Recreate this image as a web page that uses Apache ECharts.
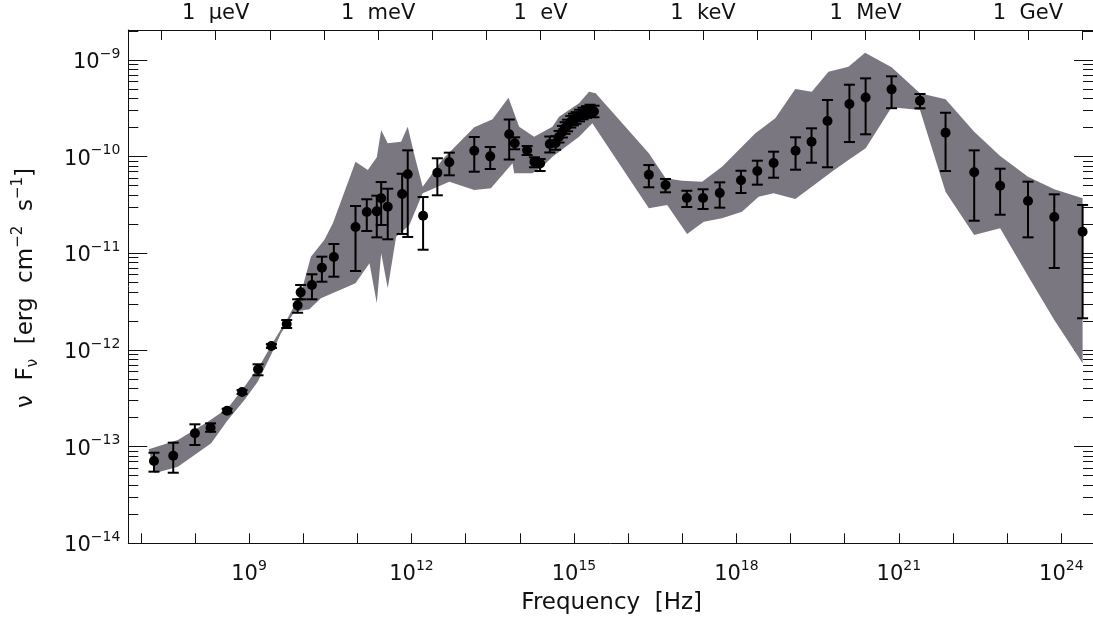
<!DOCTYPE html>
<html>
<head>
<meta charset="utf-8">
<script src="https://cdn.jsdelivr.net/npm/echarts@6/dist/echarts.min.js"></script>
<style>
  html, body { margin: 0; padding: 0; background: #fff; }
  #chart { width: 1093px; height: 626px; }
</style>
</head>
<body>
<div id="chart"></div>
<script>
// Broadband spectral energy distribution, all quantities in log10.
// Frequency in Hz, flux νFν in erg cm^-2 s^-1.

// Measured points
const logNu = [
  7.244, 7.600, 8.000, 8.289, 8.595, 8.871, 9.166, 9.413, 9.695, 9.897,
  9.953, 10.161, 10.345, 10.566, 10.966, 11.174, 11.359, 11.440, 11.561, 11.827,
  11.930, 12.214, 12.477, 12.698, 13.159, 13.454, 13.804, 13.905, 14.135, 14.270,
  14.375, 14.554, 14.661, 14.725, 14.786, 14.836, 14.882, 14.941, 14.992, 15.038,
  15.103, 15.167, 15.232, 15.296, 15.370,
  16.383, 16.691, 17.084, 17.384, 17.692, 18.084, 18.386, 18.687, 19.092, 19.387,
  19.682, 20.087, 20.386, 20.865, 21.390, 21.862, 22.391, 22.870, 23.385, 23.870,
  24.393
];
const logFlux = [
  -13.149, -13.094, -12.862, -12.804, -12.628, -12.435, -12.200, -11.959, -11.731, -11.538,
  -11.404, -11.328, -11.149, -11.038, -10.728, -10.573, -10.566, -10.431, -10.518, -10.387,
  -10.183, -10.611, -10.166, -10.059, -9.939, -9.997, -9.769, -9.862, -9.933, -10.052,
  -10.071, -9.869, -9.859, -9.794, -9.742, -9.704, -9.678, -9.639, -9.616, -9.600,
  -9.575, -9.554, -9.538, -9.523, -9.533,
  -10.187, -10.294, -10.428, -10.428, -10.376, -10.245, -10.149, -10.066, -9.939, -9.846,
  -9.631, -9.456, -9.388, -9.304, -9.421, -9.752, -10.162, -10.301, -10.459, -10.625,
  -10.777
];
const logFluxLow = [
  -13.259, -13.270, -12.983, -12.846, -12.648, -12.455, -12.262, -11.979, -11.773, -11.615,
  -11.476, -11.476, -11.294, -11.242, -11.183, -10.769, -10.835, -10.707, -10.855, -10.800,
  -10.831, -10.963, -10.400, -10.193, -10.156, -10.128, -10.030, -9.924, -9.983, -10.110,
  -10.149, -9.957, -9.929, -9.854, -9.802, -9.764, -9.738, -9.699, -9.676, -9.660,
  -9.635, -9.614, -9.598, -9.583, -9.593,
  -10.317, -10.369, -10.521, -10.542, -10.528, -10.376, -10.290, -10.218, -10.135, -10.063,
  -10.110, -9.849, -9.769, -9.499, -9.500, -10.149, -10.663, -10.601, -10.835, -11.152,
  -11.672
];
const logFluxHigh = [
  -13.063, -12.959, -12.769, -12.759, -12.608, -12.415, -12.148, -11.939, -11.690, -11.476,
  -11.328, -11.217, -11.035, -10.904, -10.511, -10.441, -10.404, -10.263, -10.332, -10.177,
  -9.935, -10.418, -10.017, -9.959, -9.797, -9.900, -9.616, -9.800, -9.890, -10.007,
  -10.025, -9.792, -9.789, -9.734, -9.682, -9.644, -9.618, -9.579, -9.556, -9.540,
  -9.515, -9.494, -9.478, -9.463, -9.473,
  -10.087, -10.231, -10.353, -10.338, -10.266, -10.146, -10.042, -9.949, -9.800, -9.707,
  -9.414, -9.256, -9.190, -9.169, -9.352, -9.546, -9.935, -10.125, -10.259, -10.390,
  -10.500
];

// Variability envelope: upper and lower edges
const bandUpperNu = [
  7.146, 7.686, 8.239, 8.608, 8.915, 9.221, 9.468, 9.713, 9.958, 10.142,
  10.389, 10.548, 10.966, 11.193, 11.359, 11.440, 11.561, 11.808, 11.930, 12.053,
  12.206, 12.575, 13.159, 13.496, 13.791, 13.988, 14.264, 14.602, 14.725, 15.094,
  15.278, 15.401, 16.383, 16.691, 16.997, 17.366, 17.734, 18.350, 18.718, 19.087,
  19.392, 19.700, 20.069, 20.376, 20.866, 21.390, 21.862, 22.391, 22.870, 23.385,
  23.870, 24.393
];
const bandUpperFlux = [
  -13.028, -12.931, -12.742, -12.600, -12.380, -12.138, -11.897, -11.672, -11.414, -11.035,
  -10.862, -10.690, -10.052, -10.138, -10.007, -9.725, -9.862, -9.846, -9.690, -9.983,
  -10.311, -10.028, -9.697, -9.614, -9.390, -9.690, -9.794, -9.690, -9.587, -9.448,
  -9.328, -9.345, -9.966, -10.224, -10.249, -10.259, -10.104, -9.759, -9.604, -9.300,
  -9.328, -9.121, -9.070, -8.925, -9.076, -9.345, -9.407, -9.742, -9.994, -10.208,
  -10.338, -10.431
];
const bandLowerNu = [
  7.257, 7.686, 8.300, 8.608, 8.915, 9.160, 9.405, 9.590, 9.837, 10.113,
  10.327, 10.966, 11.224, 11.359, 11.440, 11.561, 11.716, 11.961, 12.206, 12.698,
  13.159, 13.466, 13.865, 13.896, 14.233, 14.417, 14.602, 15.094, 15.339, 16.383,
  16.721, 17.089, 17.397, 17.734, 18.103, 18.410, 18.687, 19.087, 19.392, 19.761,
  20.069, 20.387, 20.866, 21.390, 21.862, 22.391, 22.870, 23.385, 23.870, 24.393
];
const bandLowerFlux = [
  -13.276, -13.208, -12.966, -12.724, -12.518, -12.328, -12.052, -11.828, -11.604, -11.579,
  -11.466, -11.310, -11.104, -11.517, -11.000, -11.362, -10.828, -10.707, -10.380, -10.259,
  -10.345, -10.328, -10.069, -10.172, -10.172, -10.104, -10.001, -9.794, -9.655, -10.535,
  -10.500, -10.800, -10.673, -10.638, -10.570, -10.415, -10.379, -10.438, -10.311, -10.156,
  -10.035, -9.914, -9.490, -9.518, -10.363, -10.811, -10.741, -11.235, -11.690, -12.138
];

// Axis ticks
const freqMajorTicks = [7, 8, 9, 10, 11, 12, 13, 14, 15, 16, 17, 18, 19, 20, 21, 22, 23, 24];
const freqLabelTicks = [9, 12, 15, 18, 21, 24];
const fluxMajorTicks = [-14, -13, -12, -11, -10, -9];
const energyUnits = { '-6': 'μeV', '-3': 'meV', '0': 'eV', '3': 'keV', '6': 'MeV', '9': 'GeV' };
const LOG_HZ_PER_EV = Math.log10(2.417989e14);

const X_MIN = 6.77, X_MAX = 24.585;
const Y_MIN = -14, Y_MAX = -8.69;

const fluxMinorTicks = [];
for (let d = -14; d < -8; d++) {
  for (let k = 2; k <= 9; k++) {
    const v = d + Math.log10(k);
    if (v < Y_MAX) fluxMinorTicks.push(v);
  }
}
const energyTicks = [];
for (let k = -8; k <= 11; k++) {
  const v = LOG_HZ_PER_EV + k;
  if (v > X_MIN && v < X_MAX) energyTicks.push(v);
}
const energyLabelTicks = Object.keys(energyUnits).map(k => LOG_HZ_PER_EV + Number(k));

const FONT = 'DejaVu Sans';
const INK = '#111';
const BAND = '#7a7780';

const powRich = {
  b: { fontFamily: FONT, fontSize: 21, lineHeight: 26, color: INK, verticalAlign: 'bottom' },
  s: { fontFamily: FONT, fontSize: 14, lineHeight: 16, color: INK, verticalAlign: 'top' }
};
const powLabel = v => '{b|10}{s|' + String(Math.round(v)).replace('-', '−') + '}';

const tickLine = { lineStyle: { color: INK, width: 1 } };

const chart = echarts.init(document.getElementById('chart'), null, { renderer: 'canvas' });

const grid = { left: 128.3, top: 30, width: 966.7, height: 513.3, containLabel: false };

chart.setOption({
  animation: false,
  backgroundColor: '#fff',
  grid: grid,
  xAxis: [
    {
      type: 'value', position: 'bottom', min: X_MIN, max: X_MAX,
      axisLine: { show: true, onZero: false, lineStyle: { color: INK, width: 1 } },
      axisTick: { show: true, inside: true, length: 10, customValues: freqMajorTicks, ...tickLine },
      axisLabel: { show: true, customValues: freqLabelTicks, margin: 16, formatter: powLabel, rich: powRich },
      splitLine: { show: false }
    },
    {
      type: 'value', position: 'top', min: X_MIN, max: X_MAX,
      axisLine: { show: true, onZero: false, lineStyle: { color: INK, width: 1 } },
      axisTick: { show: true, inside: true, length: 10, customValues: energyTicks, ...tickLine },
      axisLabel: {
        show: true, customValues: energyLabelTicks, margin: 6,
        fontFamily: FONT, fontSize: 21, color: INK,
        formatter: v => '1  ' + energyUnits[String(Math.round(v - LOG_HZ_PER_EV))]
      },
      splitLine: { show: false }
    }
  ],
  yAxis: [
    {
      type: 'value', position: 'left', min: Y_MIN, max: Y_MAX,
      axisLine: { show: true, onZero: false, lineStyle: { color: INK, width: 1 } },
      axisTick: { show: true, inside: true, length: 19, customValues: fluxMajorTicks, ...tickLine },
      axisLabel: { show: true, customValues: fluxMajorTicks, margin: 8, formatter: powLabel, rich: powRich },
      splitLine: { show: false }
    },
    {
      type: 'value', position: 'right', min: Y_MIN, max: Y_MAX,
      axisLine: { show: false },
      axisTick: { show: true, inside: true, length: 19, customValues: fluxMajorTicks, ...tickLine },
      axisLabel: { show: false },
      splitLine: { show: false }
    },
    {
      type: 'value', position: 'left', min: Y_MIN, max: Y_MAX,
      axisLine: { show: false },
      axisTick: { show: true, inside: true, length: 10, customValues: fluxMinorTicks, ...tickLine },
      axisLabel: { show: false },
      splitLine: { show: false }
    },
    {
      type: 'value', position: 'right', min: Y_MIN, max: Y_MAX,
      axisLine: { show: false },
      axisTick: { show: true, inside: true, length: 10, customValues: fluxMinorTicks, ...tickLine },
      axisLabel: { show: false },
      splitLine: { show: false }
    }
  ],
  graphic: [
    {
      type: 'text', x: 611.7, y: 603,
      style: {
        text: 'Frequency  [Hz]', fontFamily: FONT, fontSize: 23, fill: INK,
        align: 'center', verticalAlign: 'middle'
      }
    },
    {
      type: 'text', x: 26, y: 288, rotation: Math.PI / 2,
      style: {
        text: '{m|ν  F}{sub|ν}{m|  [erg  cm}{sup|−2}{m|  s}{sup|−1}{m|]}',
        align: 'center', verticalAlign: 'middle',
        rich: {
          m: { fontFamily: FONT, fontSize: 23, lineHeight: 30, fill: INK, verticalAlign: 'middle' },
          sub: { fontFamily: FONT, fontSize: 15, lineHeight: 18, fill: INK, verticalAlign: 'bottom' },
          sup: { fontFamily: FONT, fontSize: 15, lineHeight: 18, fill: INK, verticalAlign: 'top' }
        }
      }
    }
  ],
  series: [
    {
      name: 'envelope', type: 'custom', xAxisIndex: 0, yAxisIndex: 0, silent: true, z: 1,
      data: [[bandUpperNu[0], bandUpperFlux[0]]],
      renderItem: (params, api) => {
        const upper = bandUpperNu.map((x, i) => api.coord([x, bandUpperFlux[i]]));
        const lower = bandLowerNu.map((x, i) => api.coord([x, bandLowerFlux[i]])).reverse();
        return { type: 'polygon', shape: { points: upper.concat(lower) }, style: { fill: BAND } };
      }
    },
    {
      name: 'errors', type: 'custom', xAxisIndex: 0, yAxisIndex: 0, silent: true, z: 2,
      data: logNu.map((x, i) => [x, logFluxLow[i], logFluxHigh[i]]),
      encode: { x: 0, y: [1, 2] },
      renderItem: (params, api) => {
        const x = api.value(0);
        const lo = api.coord([x, api.value(1)]);
        const hi = api.coord([x, api.value(2)]);
        const w = 5.5;
        const st = { stroke: '#000', lineWidth: 2 };
        return {
          type: 'group',
          children: [
            { type: 'line', shape: { x1: lo[0], y1: lo[1], x2: hi[0], y2: hi[1] }, style: st },
            { type: 'line', shape: { x1: lo[0] - w, y1: lo[1], x2: lo[0] + w, y2: lo[1] }, style: st },
            { type: 'line', shape: { x1: hi[0] - w, y1: hi[1], x2: hi[0] + w, y2: hi[1] }, style: st }
          ]
        };
      }
    },
    {
      name: 'flux', type: 'scatter', xAxisIndex: 0, yAxisIndex: 0, silent: true, z: 3,
      symbol: 'circle', symbolSize: 10,
      itemStyle: { color: '#000', opacity: 1 },
      data: logNu.map((x, i) => [x, logFlux[i]])
    }
  ]
});
</script>
</body>
</html>
